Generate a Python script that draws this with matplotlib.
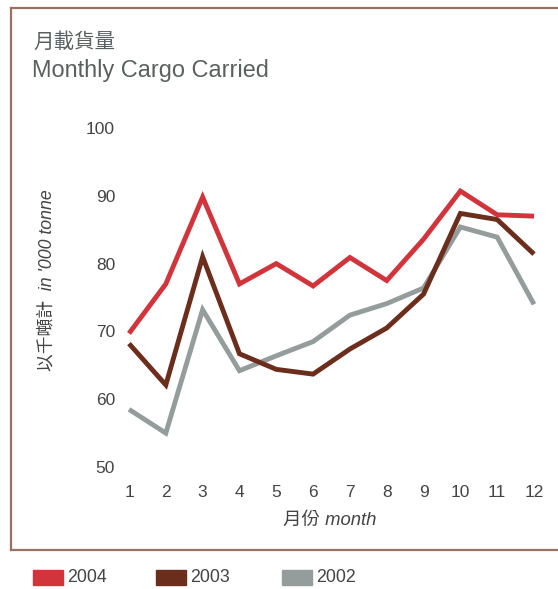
import matplotlib
matplotlib.use("Agg")
import matplotlib.pyplot as plt
from matplotlib.lines import Line2D
from matplotlib.patches import Rectangle

plt.rcParams['font.family'] = ['Liberation Sans', 'Noto Sans CJK TC', 'DejaVu Sans']

months = list(range(1, 13))
cargo_2004 = [69.7, 77.0, 89.8, 77.0, 80.0, 76.7, 80.9, 77.5, 83.6, 90.7, 87.2, 87.0]
cargo_2003 = [68.2, 62.1, 81.0, 66.7, 64.4, 63.7, 67.4, 70.5, 75.5, 87.4, 86.5, 81.4]
cargo_2002 = [58.5, 55.0, 73.2, 64.2, 66.4, 68.5, 72.4, 74.1, 76.4, 85.4, 83.9, 74.0]
years = ['2004', '2003', '2002']
colors = {'2004': '#d1343b', '2003': '#6b2d1c', '2002': '#959c9c'}
yticks = [50, 60, 70, 80, 90, 100]

W, H = 558, 589
fig = plt.figure(figsize=(W / 100, H / 100), dpi=100)

def fx(px):
    return px / W

def fy(py):
    return 1 - py / H

ax = fig.add_axes([fx(129), fy(467), fx(534) - fx(129), fy(128) - fy(467)])
series = {'2004': cargo_2004, '2003': cargo_2003, '2002': cargo_2002}
for yr in ['2002', '2003', '2004']:
    ax.plot(months, series[yr], color=colors[yr], lw=3.5, clip_on=False,
            solid_capstyle='butt', solid_joinstyle='miter')

ax.set_xlim(1, 12)
ax.set_ylim(50, 100)
ax.set_xticks(months)
ax.set_yticks(yticks)
for s in ax.spines.values():
    s.set_visible(False)
ax.tick_params(length=0, labelsize=12.5, labelcolor='#444444')
ax.tick_params(axis='y', pad=10)
ax.tick_params(axis='x', pad=13)
ax.patch.set_alpha(0)

# axis titles
fig.text(fx(47), fy(280), "以千噸計  in '000 tonne", rotation=90, style='italic',
         fontsize=12.8, color='#444444', ha='center', va='center')
fig.text(fx(330), fy(520), "月份 month", style='italic', fontsize=13.3,
         color='#444444', ha='center', va='center')

# title
fig.text(fx(33), fy(42), "月載貨量", fontsize=14.8, color='#5a6060', va='center')
fig.text(fx(32), fy(71), "Monthly Cargo Carried", fontsize=16.9, color='#5a6060', va='center')

# frame
fc = '#9a7060'
fig.add_artist(Line2D([fx(11), 1], [fy(7.5), fy(7.5)], color=fc, lw=1.6))
fig.add_artist(Line2D([fx(11), 1], [fy(549.5), fy(549.5)], color=fc, lw=1.6))
fig.add_artist(Line2D([fx(11), fx(11)], [fy(7.5), fy(549.5)], color=fc, lw=1.6))

# legend
legend_x = {'2004': 33, '2003': 156, '2002': 282}
for yr in years:
    x0 = legend_x[yr]
    fig.add_artist(Rectangle((fx(x0), fy(585)), fx(30), fy(570) - fy(585),
                             color=colors[yr], transform=fig.transFigure))
    fig.text(fx(x0 + 34), fy(577), yr, fontsize=12.8, color='#444444', va='center')

fig.savefig('out.png', dpi=100)
